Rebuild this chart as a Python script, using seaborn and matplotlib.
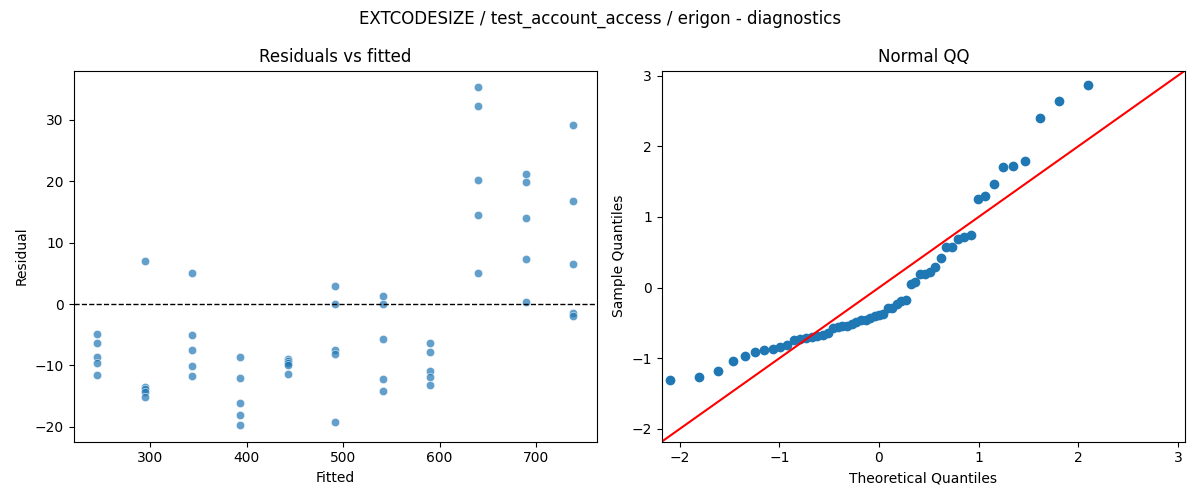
import numpy as np
import pandas as pd
import matplotlib
matplotlib.use("Agg")
import matplotlib.pyplot as plt
import seaborn as sns
from statistics import NormalDist

# Fitted values (one per group) and residuals
fitted_levels = [245.4, 294.7, 344.0, 393.3, 442.6, 491.9, 541.2, 590.5, 639.8, 689.1, 738.4]
residuals_by_group = [
    [-4.83, -6.35, -8.57, -9.6, -11.56],
    [7.0, -13.6, -13.9, -14.4, -15.2],
    [5.1, -4.99, -7.49, -10.04, -11.67],
    [-8.57, -12.05, -16.1, -18.07, -19.7],
    [-8.9, -9.3, -9.6, -9.9, -11.4],
    [2.93, 0.0, -7.54, -8.14, -19.2],
    [1.3, 0.0, -5.64, -12.2, -14.16],
    [-6.35, -7.81, -11.0, -11.88, -13.18],
    [35.3, 32.2, 20.18, 14.49, 5.05],
    [21.16, 19.86, 14.0, 7.33, 0.38],
    [29.14, 16.77, 6.51, -1.41, -1.9],
]

fitted = []
resid = []
for f, rs in zip(fitted_levels, residuals_by_group):
    for r in rs:
        fitted.append(f)
        resid.append(r)
df = pd.DataFrame({"Fitted": fitted, "Residual": resid})

# Normal QQ of standardized residuals (statsmodels-style plotting positions)
r = np.sort(np.array(resid))
n = len(r)
loc, scale = r.mean(), r.std()
sample_q = (r - loc) / scale
nd = NormalDist()
theo_q = np.array([nd.inv_cdf(i / (n + 1)) for i in range(1, n + 1)])
qq = pd.DataFrame({"Theoretical Quantiles": theo_q, "Sample Quantiles": sample_q})

fig, axes = plt.subplots(1, 2, figsize=(12, 5), dpi=100)

ax = axes[0]
sns.scatterplot(data=df, x="Fitted", y="Residual", ax=ax, alpha=0.7, color="C0")
ax.axhline(0, color="black", linestyle="--", linewidth=1)
ax.set_title("Residuals vs fitted")

ax = axes[1]
sns.scatterplot(data=qq, x="Theoretical Quantiles", y="Sample Quantiles", ax=ax,
                color="C0", edgecolor="C0", linewidth=1, s=36)
ax.set_xlim(-2.18, 3.07)
ax.set_ylim(-2.18, 3.07)
ax.axline((0, 0), slope=1, color="red", linewidth=1.5)
ax.set_title("Normal QQ")

fig.suptitle("EXTCODESIZE / test_account_access / erigon - diagnostics")
fig.tight_layout()
fig.savefig("out.png", dpi=100)
